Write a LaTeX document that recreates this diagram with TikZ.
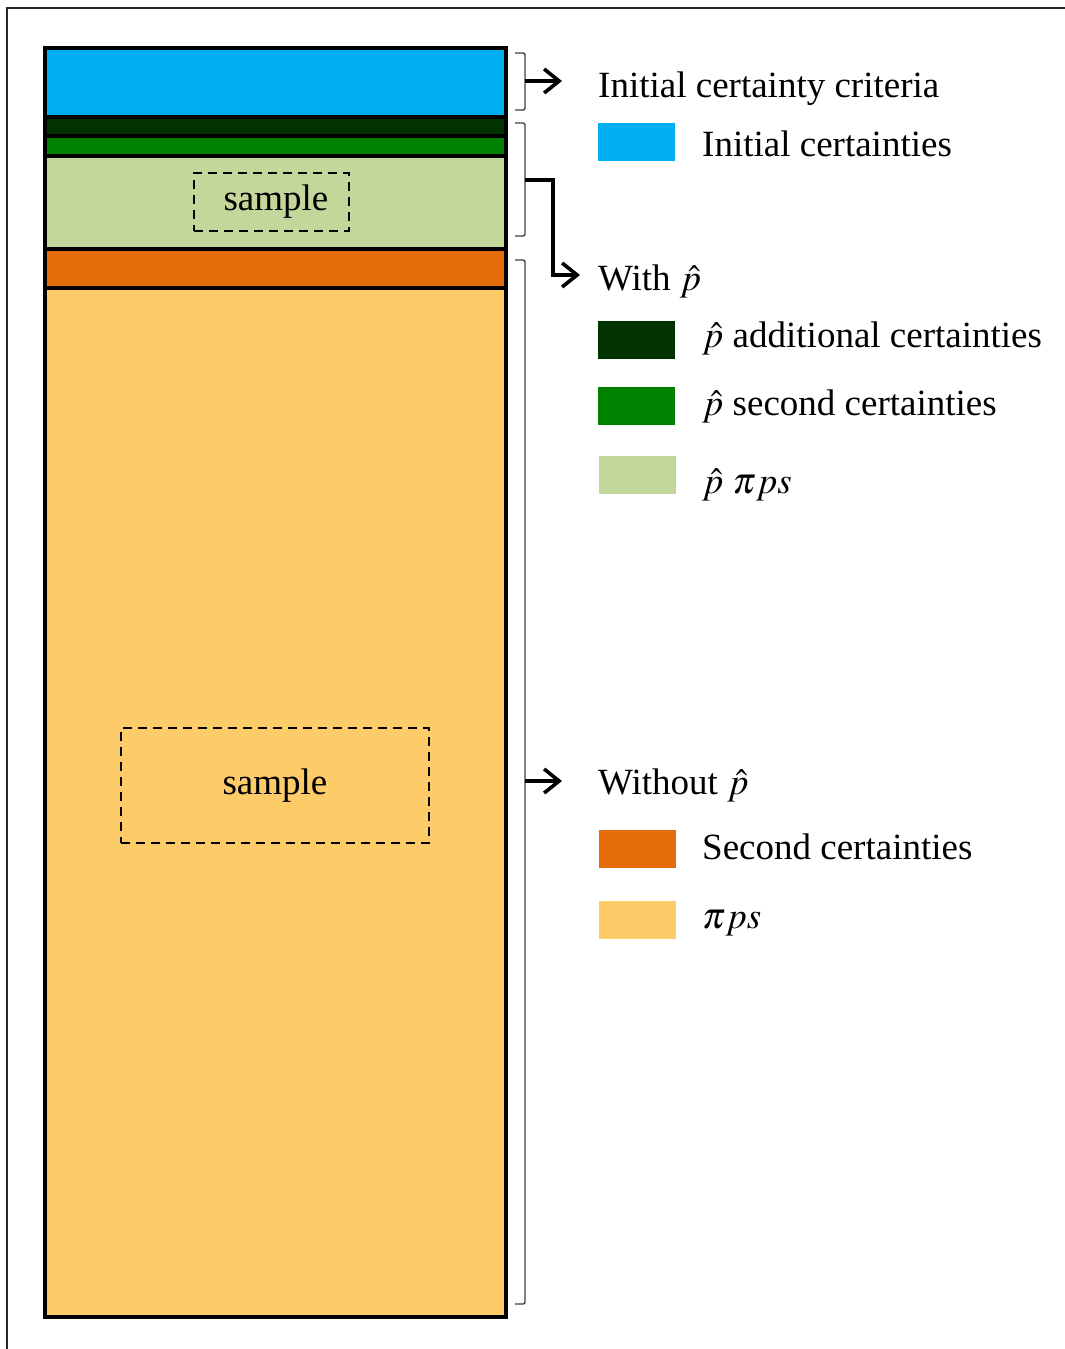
\documentclass[tikz,border=0pt]{standalone}
\usepackage{mathptmx}
\usepackage{fontspec}
\setmainfont{Liberation Serif}
\usepackage{xcolor}
\usetikzlibrary{positioning,arrows.meta}
\definecolor{cblue}{HTML}{00B0F0}
\definecolor{cdkgreen}{HTML}{003300}
\definecolor{cgreen}{HTML}{008000}
\definecolor{cltgreen}{HTML}{C4D79B}
\definecolor{corange}{HTML}{E46C0A}
\definecolor{cyellow}{HTML}{FECB69}
\definecolor{cgray}{HTML}{404040}
\tikzset{
  layer/.style={draw=black,line width=3.5pt},
  smp/.style={draw=black,line width=2.2pt,dash pattern=on 9pt off 6pt,inner sep=0pt,
              font=\fontsize{37}{44}\selectfont},
  swatch/.style={minimum width=77pt,minimum height=38pt,inner sep=0pt,anchor=north west},
  lbl/.style={anchor=base west,inner sep=0pt,font=\fontsize{37}{44}\selectfont},
  brk/.style={draw=cgray,line width=1.4pt,rounded corners=2pt},
  arr/.style={-{Straight Barb[length=15pt,width=24pt,line width=3.6pt]},draw=black,line width=3.4pt},
  frm/.style={draw=black!85,line width=2pt}
}

\begin{document}
\begin{tikzpicture}[x=1pt,y=-1pt]
\useasboundingbox (0,0) rectangle (1065,1349);
\draw[frm] (7,1349) -- (7,8) -- (1065,8);

% stacked layers
\draw[layer,fill=cyellow] (45,288) rectangle (506,1317);
\draw[layer,fill=corange] (45,249) rectangle (506,288);
\draw[layer,fill=cltgreen] (45,156) rectangle (506,249);
\draw[layer,fill=cgreen] (45,136) rectangle (506,156);
\draw[layer,fill=cdkgreen] (45,117) rectangle (506,136);
\draw[layer,fill=cblue] (45,48) rectangle (506,117);

\node[smp,minimum width=155pt,minimum height=58pt] (s1) at (271.5,202) {\hspace*{9pt}sample};
\node[smp,minimum width=308pt,minimum height=115pt] (s2) at (275,785.5) {sample};

% brackets
\draw[brk] (515,53) -- (525,53) -- (525,110) -- (515,110);
\draw[brk] (515,123) -- (525,123) -- (525,236) -- (515,236);
\draw[brk] (515,260) -- (525,260) -- (525,1304) -- (515,1304);
\coordinate (b1) at (525,81);
\coordinate (b2) at (525,180);
\coordinate (b3) at (525,781);

% legend
\node[lbl] (h1) at (598,97) {Initial certainty criteria};
\node[swatch,fill=cblue] (k1) at (598,123) {};
\node[lbl] (t1) at (702,156) {Initial certainties};

\node[lbl] (h2) at (598,290) {With $\hat{p}$};
\node[swatch,fill=cdkgreen] (k2) at (598,321) {};
\node[lbl] (t2) at (702,347) {$\hat{p}$ additional certainties};
\node[swatch,fill=cgreen] (k3) at (598,387) {};
\node[lbl] (t3) at (702,415) {$\hat{p}$ second certainties};
\node[swatch,fill=cltgreen] (k4) at (599,456) {};
\node[lbl] (t4) at (702,493) {$\hat{p}$ $\pi ps$};

\node[lbl] (h3) at (598,794) {Without $\hat{p}$};
\node[swatch,fill=corange] (k5) at (599,830) {};
\node[lbl] (t5) at (702,859) {Second certainties};
\node[swatch,fill=cyellow] (k6) at (599,901) {};
\node[lbl] (t6) at (702,928) {$\pi ps$};

\coordinate (e1) at (562,81);
\coordinate (e2) at (580,275);
\coordinate (e3) at (562,781);
\draw[arr] (b1) -- (e1);
\draw[arr] (b2) -- (553,180) |- (e2);
\draw[arr] (b3) -- (e3);
\end{tikzpicture}
\end{document}
